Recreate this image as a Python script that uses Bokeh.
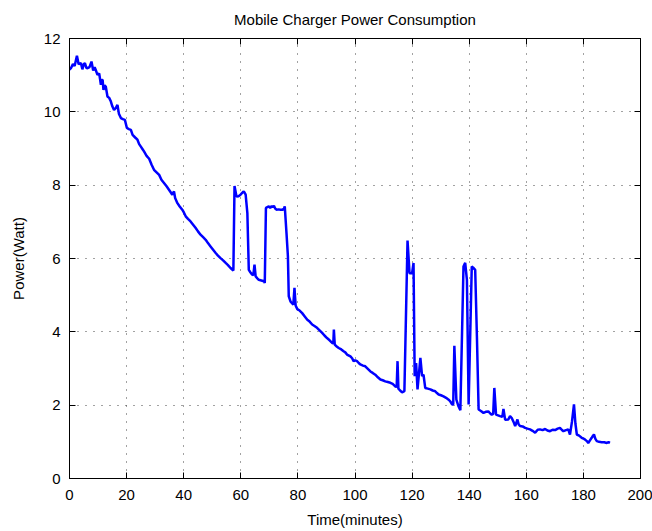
from bokeh.plotting import figure
from bokeh.models import Range1d, FixedTicker, LinearAxis, ColumnDataSource, CustomLabelingPolicy
from bokeh.embed import file_html
from bokeh.resources import INLINE

# ---- data ----
time_min = [
    0.0, 0.5, 1.2, 1.8, 2.6, 3.2, 4.0, 4.5, 5.0, 5.4, 5.9, 6.3, 7.0, 7.7, 8.3, 8.8, 9.2, 9.8,
    10.4, 11.0, 11.3, 11.6, 11.9, 12.3, 12.7, 13.3, 13.9, 14.5, 15.0, 15.6, 16.2, 16.8, 17.3,
    18.0, 18.7, 19.4, 20.1, 20.8, 21.5, 22.1, 23.0, 23.8, 24.4, 25.0, 25.6, 26.1, 27.0, 27.9,
    28.8, 29.6, 30.5, 31.4, 32.2, 33.1, 34.0, 34.9, 35.5, 36.0, 36.6, 37.0, 37.8, 38.6, 39.5,
    40.1, 40.7, 41.5, 42.4, 43.3, 44.2, 45.0, 45.9, 46.8, 47.7, 48.5, 49.4, 50.3, 51.2, 52.0,
    52.9, 53.8, 54.7, 55.5, 56.4, 57.0, 57.4, 57.8, 58.5, 59.2, 59.9, 60.4, 60.9, 61.3, 61.7,
    62.3, 62.8, 63.4, 64.0, 64.4, 64.8, 65.2, 65.8, 66.3, 67.2, 68.1, 68.4, 68.8, 69.3, 69.8,
    70.3, 70.8, 71.2, 71.6, 72.0, 72.5, 73.2, 73.9, 74.5, 75.1, 75.4, 76.0, 76.5, 76.8, 77.4,
    77.7, 78.4, 78.8, 79.2, 79.8, 80.6, 81.5, 82.4, 83.3, 84.1, 85.0, 85.8, 86.7, 87.6, 88.5,
    89.3, 90.2, 91.1, 92.0, 92.4, 92.6, 92.9, 93.6, 94.3, 95.2, 96.0, 96.6, 97.2, 98.4, 99.0,
    99.5, 100.1, 100.7, 101.3, 101.9, 102.8, 103.6, 104.5, 105.4, 106.2, 107.1, 108.0, 108.9,
    109.7, 110.6, 111.5, 112.4, 113.2, 114.1, 114.6, 114.9, 115.2, 115.8, 116.5, 117.3, 118.4,
    119.1, 120.0, 120.5, 120.9, 121.4, 121.9, 122.9, 123.5, 124.0, 124.6, 125.5, 126.4, 127.2,
    128.1, 128.7, 129.3, 130.1, 131.0, 131.9, 132.8, 133.4, 134.0, 134.4, 134.8, 135.5, 136.2,
    136.9, 138.0, 138.6, 139.2, 139.8, 140.9, 141.4, 142.1, 142.7, 143.3, 144.1, 145.0, 145.8,
    146.7, 147.3, 147.9, 148.4, 148.8, 149.4, 150.1, 150.8, 151.6, 152.0, 152.6, 153.7, 154.3,
    154.9, 155.5, 156.1, 156.9, 157.3, 157.8, 158.7, 159.6, 160.4, 161.3, 162.2, 163.1, 164.0,
    164.8, 165.7, 166.6, 167.4, 168.3, 169.2, 170.1, 171.0, 171.8, 172.4, 173.0, 173.9, 174.7,
    175.3, 176.0, 176.7, 177.2, 177.7, 178.5, 179.4, 180.0, 180.6, 181.2, 181.7, 182.3, 182.9,
    183.3, 183.7, 184.2, 184.7, 185.5, 186.4, 187.3, 188.2, 188.8, 189.3,
]
power_watt = [
    11.15, 11.19, 11.30, 11.25, 11.53, 11.30, 11.33, 11.16, 11.30, 11.33, 11.20, 11.19, 11.22,
    11.37, 11.13, 11.22, 11.14, 11.01, 11.05, 10.74, 10.87, 10.87, 10.60, 10.72, 10.69, 10.42,
    10.38, 10.28, 10.15, 10.05, 10.10, 10.19, 9.95, 9.83, 9.80, 9.78, 9.56, 9.53, 9.51, 9.37,
    9.30, 9.24, 9.12, 9.05, 8.98, 8.92, 8.80, 8.72, 8.55, 8.42, 8.35, 8.28, 8.15, 8.06, 7.97,
    7.87, 7.80, 7.74, 7.83, 7.65, 7.51, 7.42, 7.33, 7.25, 7.15, 7.08, 7.01, 6.92, 6.83, 6.74,
    6.65, 6.58, 6.51, 6.42, 6.33, 6.24, 6.15, 6.08, 6.01, 5.95, 5.88, 5.82, 5.74, 5.70, 5.67,
    7.98, 7.69, 7.70, 7.74, 7.78, 7.83, 7.80, 7.74, 7.24, 5.69, 5.62, 5.56, 5.55, 5.83, 5.51,
    5.46, 5.42, 5.40, 5.38, 5.33, 7.38, 7.40, 7.42, 7.38, 7.43, 7.40, 7.44, 7.37, 7.33, 7.34,
    7.33, 7.33, 7.35, 7.42, 6.70, 6.06, 4.97, 4.83, 4.80, 4.74, 5.20, 4.72, 4.62, 4.58, 4.51,
    4.42, 4.33, 4.28, 4.20, 4.16, 4.11, 4.04, 3.97, 3.90, 3.83, 3.77, 3.70, 3.68, 4.06, 3.65,
    3.60, 3.56, 3.52, 3.47, 3.44, 3.38, 3.33, 3.28, 3.20, 3.22, 3.20, 3.15, 3.11, 3.08, 3.06,
    2.99, 2.92, 2.88, 2.83, 2.76, 2.70, 2.68, 2.65, 2.63, 2.61, 2.58, 2.51, 2.50, 3.20, 2.45,
    2.40, 2.35, 2.38, 6.49, 5.60, 5.60, 5.88, 2.79, 3.15, 2.43, 3.29, 2.79, 2.83, 2.47, 2.45,
    2.43, 2.40, 2.38, 2.33, 2.29, 2.27, 2.24, 2.20, 2.15, 2.10, 2.02, 2.02, 3.62, 2.15, 1.98,
    1.86, 5.78, 5.88, 5.42, 2.02, 5.78, 5.75, 5.69, 3.88, 1.88, 1.84, 1.79, 1.82, 1.83, 1.78,
    1.74, 1.76, 2.47, 1.74, 1.72, 1.70, 1.68, 1.90, 1.60, 1.61, 1.70, 1.65, 1.55, 1.43, 1.61,
    1.48, 1.43, 1.42, 1.38, 1.36, 1.34, 1.30, 1.25, 1.33, 1.34, 1.32, 1.35, 1.31, 1.29, 1.33,
    1.32, 1.36, 1.38, 1.33, 1.29, 1.32, 1.34, 1.20, 1.55, 2.02, 1.50, 1.20, 1.17, 1.11, 1.09,
    1.06, 1.02, 0.97, 1.04, 1.11, 1.16, 1.20, 1.08, 1.02, 1.00, 0.99, 0.99, 0.97, 0.99, 0.97,
]
x_ticks = [0, 20, 40, 60, 80, 100, 120, 140, 160, 180, 200]
y_ticks = [0, 2, 4, 6, 8, 10, 12]

FONT = "Liberation Sans"
FS = "15px"

p = figure(width=652, height=530, x_range=Range1d(0, 200), y_range=Range1d(0, 12),
           output_backend="svg", toolbar_location=None,
           min_border_left=69, min_border_right=12, min_border_top=38, min_border_bottom=50,
           title="Mobile Charger Power Consumption")

p.title.align = "center"
p.title.text_font = FONT
p.title.text_font_size = FS
p.title.text_font_style = "normal"
p.title.text_color = "black"
p.title.standoff = 13

p.outline_line_color = "black"
p.outline_line_width = 1

src = ColumnDataSource(dict(t=time_min, w=power_watt))
p.line("t", "w", source=src, line_color="#0000ff", line_width=2.5)

p.xaxis.ticker = FixedTicker(ticks=x_ticks)
p.yaxis.ticker = FixedTicker(ticks=y_ticks)
p.xaxis.axis_label = "Time(minutes)"
p.yaxis.axis_label = "Power(Watt)"

for ax in (p.xaxis[0], p.yaxis[0]):
    ax.major_tick_in = 6
    ax.major_tick_out = 0
    ax.minor_tick_line_color = None
    ax.axis_line_color = "black"
    ax.major_tick_line_color = "black"
    ax.major_label_text_font = FONT
    ax.major_label_text_font_size = FS
    ax.major_label_text_color = "black"
    ax.axis_label_text_font = FONT
    ax.axis_label_text_font_size = FS
    ax.axis_label_text_font_style = "normal"
    ax.axis_label_text_color = "black"

p.xaxis.major_label_standoff = 11
p.yaxis.major_label_standoff = 9
p.xaxis.axis_label_standoff = 8
p.yaxis.axis_label_standoff = 14

# mirror ticks on top and right (no labels)
hide_all = CustomLabelingPolicy(code="""
const keep = indices.clone ? indices.clone() : indices;
for (const i of Array.from(keep)) keep.unset(i);
return keep;
""")
for side in ("above", "right"):
    ax = LinearAxis(ticker=FixedTicker(ticks=x_ticks if side == "above" else y_ticks))
    ax.major_tick_in = 6
    ax.major_tick_out = 0
    ax.minor_tick_line_color = None
    ax.major_label_policy = hide_all
    ax.major_label_standoff = 0
    ax.major_label_text_font_size = "1px"
    ax.axis_line_color = "black"
    ax.major_tick_line_color = "black"
    p.add_layout(ax, side)

for g in (p.xgrid[0], p.ygrid[0]):
    g.grid_line_color = "#444444"
    g.grid_line_dash = "1 7"
    g.grid_line_width = 1

open("out.html", "w").write(file_html(p, INLINE))
